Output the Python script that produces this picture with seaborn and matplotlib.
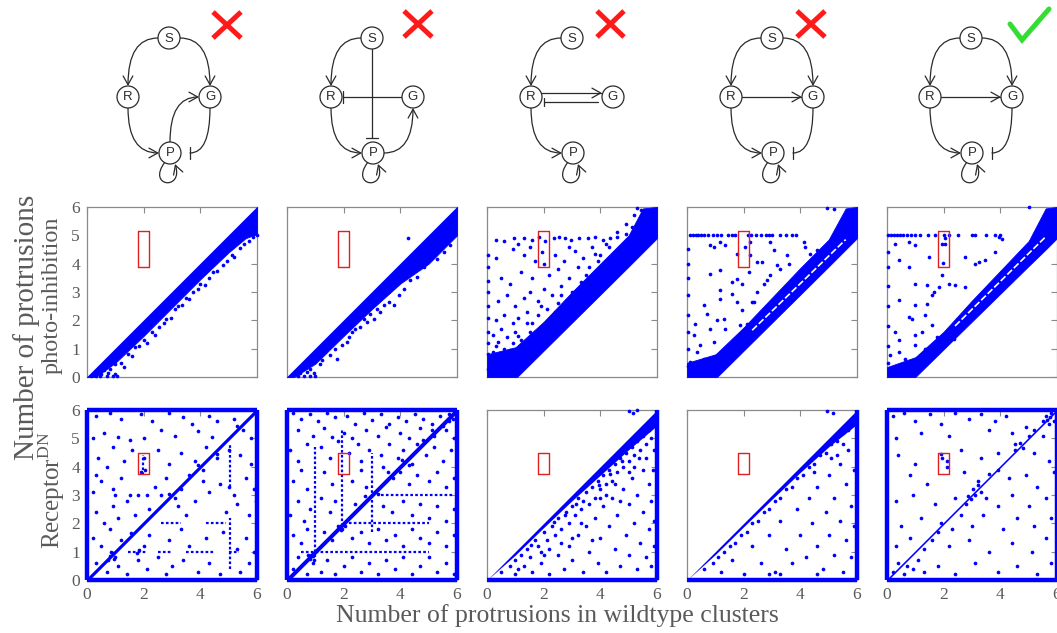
import numpy as np
import pandas as pd
import seaborn as sns
import matplotlib.pyplot as plt
from matplotlib.path import Path
from matplotlib.patches import Circle, FancyArrowPatch
from matplotlib.lines import Line2D

sns.set_theme(style="white")
plt.rcParams['font.family'] = ['Liberation Serif', 'DejaVu Serif']
plt.rcParams['mathtext.fontset'] = 'custom'
plt.rcParams['mathtext.rm'] = 'Liberation Serif'

BLUE = '#0000ff'
TXT = '#5a5a5a'
FRAME = '#8a8a8a'

# ---------------- data ----------------
xticks = [0, 2, 4, 6]
yticks = [0, 1, 2, 3, 4, 5, 6]

# photo-inhibition row: dense band (knots of its lower / upper edge) + sparse points
a1_band_x = [0.0, 0.3, 1.0, 2.0, 3.0, 4.0, 5.0, 5.6, 6.0]
a1_band_lo = [0.0, 0.0, 0.5, 1.45, 2.45, 3.45, 4.4, 4.9, 5.05]
a1_band_hi = [0.0, 0.3, 1.0, 2.0, 3.0, 4.0, 5.0, 5.6, 6.0]
a1_pts = [(0.3, 0.05), (0.5, 0.1), (0.7, 0.05), (0.9, 0.02), (1.0, 0.1), (0.6, 0.25), (0.8, 0.3),
          (1.0, 0.45), (1.2, 0.5), (1.3, 0.35), (1.45, 0.8), (1.6, 0.75), (1.7, 1.05), (1.85, 1.1),
          (2.0, 1.3), (2.1, 1.2), (2.3, 1.6), (2.4, 1.5), (2.55, 1.75), (2.7, 1.9), (2.8, 2.05),
          (2.95, 2.1), (3.1, 2.4), (3.2, 2.5), (3.35, 2.55), (3.5, 2.8), (3.6, 2.75), (3.75, 3.0),
          (3.9, 3.1), (4.0, 3.3), (4.15, 3.25), (4.3, 3.5), (4.45, 3.7), (4.6, 3.75), (4.8, 3.95),
          (4.95, 4.1), (5.1, 4.3), (5.2, 4.25), (5.4, 4.55), (5.55, 4.7), (5.7, 4.8), (5.85, 4.95),
          (6.0, 5.0), (0.15, 0.02), (0.45, 0.02), (1.05, 0.02), (0.75, 0.15)]

a2_band_x = [0.0, 0.25, 1.0, 2.0, 3.0, 4.0, 5.0, 6.0]
a2_band_lo = [0.0, 0.0, 0.47, 1.45, 2.4, 3.3, 4.0, 5.0]
a2_band_hi = [0.0, 0.25, 1.0, 2.0, 3.0, 4.0, 5.0, 6.0]
a2_pts = [(0.82, 0.29), (1.18, 0.47), (1.35, 0.88), (1.53, 0.76), (1.7, 1.0), (1.76, 0.65),
          (1.94, 1.12), (2.12, 1.24), (2.18, 1.41), (2.29, 1.59), (2.59, 1.76), (2.82, 1.94),
          (3.06, 2.06), (3.29, 2.29), (3.41, 2.53), (3.59, 2.65), (3.76, 2.53), (3.94, 2.88),
          (4.12, 3.12), (4.35, 3.41), (4.59, 3.53), (4.82, 3.88), (5.29, 4.18), (5.53, 4.41),
          (5.76, 4.65), (2.94, 2.24), (2.71, 2.06), (2.41, 1.71), (1.47, 1.12), (1.24, 0.59),
          (2.47, 2.18), (3.18, 2.41), (4.26, 4.92), (0.4, 0.02), (0.6, 0.02), (0.8, 0.02),
          (1.0, 0.05), (0.45, 0.15), (0.7, 0.17), (0.95, 0.15)]

a3_band_x = [0.0, 1.0, 1.06, 2.0, 3.0, 4.0, 5.0, 5.5, 6.0]
a3_band_lo = [0.0, 0.0, 0.0, 0.93, 1.92, 2.91, 3.9, 4.4, 4.9]
a3_band_hi = [0.8, 1.05, 1.1, 1.95, 3.0, 4.0, 5.0, 5.95, 6.0]
a3_pts = [(0.02, 0.3), (0.02, 0.8), (0.03, 1.2), (0.02, 1.6), (0.04, 2.1), (0.02, 2.5), (0.05, 3.0),
          (0.03, 3.4), (0.02, 3.9), (0.04, 4.3),
          (0.3, 4.85), (0.6, 4.8), (0.95, 4.9), (1.3, 4.92), (1.6, 4.85), (1.85, 4.95), (2.05, 4.8),
          (2.35, 4.9), (2.55, 4.95), (2.75, 4.9), (2.95, 4.85), (3.25, 4.92), (3.55, 4.9),
          (3.8, 4.95), (4.1, 4.85), (4.35, 4.9), (4.6, 4.95), (1.1, 4.7), (1.5, 4.6), (2.9, 4.6),
          (0.3, 4.2), (0.9, 4.5), (1.3, 4.3), (1.7, 4.1), (1.95, 4.4), (2.0, 4.0), (2.4, 4.3),
          (2.7, 4.1), (3.1, 4.45), (3.4, 4.2), (3.7, 4.6), (4.0, 4.3), (0.5, 3.5), (0.8, 3.3),
          (1.2, 3.7), (1.6, 3.5), (2.2, 3.6), (2.5, 3.8), (2.9, 3.5), (3.2, 3.9), (3.5, 3.6),
          (0.4, 2.7), (0.7, 2.9), (1.0, 2.5), (1.3, 2.8), (1.5, 3.0), (1.8, 2.7), (2.0, 3.1),
          (2.3, 2.9), (2.6, 3.2), (2.8, 2.7), (3.0, 3.0), (0.3, 2.0), (0.6, 2.2), (0.9, 1.9),
          (1.1, 2.1), (1.4, 2.3), (1.6, 1.9), (1.8, 2.2), (2.1, 2.4), (2.4, 2.3), (0.2, 1.5),
          (0.5, 1.7), (0.7, 1.4), (1.0, 1.6), (1.2, 1.3), (1.5, 1.6), (1.7, 1.5), (0.3, 1.1),
          (0.6, 1.0), (0.9, 1.2), (1.3, 1.1), (0.2, 0.9), (0.45, 0.85), (0.8, 0.95),
          (5.3, 5.95), (5.45, 5.9), (5.2, 5.7), (4.9, 5.4), (5.1, 5.3), (4.6, 5.1), (4.9, 5.05),
          (4.3, 4.6), (4.5, 4.4), (3.9, 4.1), (3.6, 3.9), (2.2, 2.0), (2.6, 2.9), (3.3, 3.35),
          (1.4, 1.9), (1.9, 2.5), (2.5, 2.6), (3.8, 4.35), (4.2, 4.7), (1.1, 1.45), (0.4, 1.25)]

a4_band_x = [0.0, 1.0, 1.06, 2.0, 3.0, 4.0, 5.0, 5.6, 6.0]
a4_band_lo = [0.0, 0.0, 0.0, 0.93, 1.92, 2.91, 3.9, 4.5, 4.9]
a4_band_hi = [0.5, 0.8, 0.85, 1.75, 2.8, 3.85, 4.85, 5.95, 6.0]
a4_gap_x = [2.3, 5.6]
a4_gap_y = [1.65, 4.85]
a4_row5_x = [0.1, 0.2, 0.3, 0.4, 0.5, 0.6, 0.75, 0.9, 1.05, 1.2, 1.45, 1.6, 1.7, 2.15, 2.25, 2.45,
             2.6, 2.8, 2.9, 3.0, 3.3, 3.5, 3.7, 3.85]
a4_pts = [(0.82, 4.65), (0.94, 4.59), (1.18, 4.76), (1.35, 4.65), (1.76, 4.35), (2.06, 4.59),
          (2.24, 4.76), (2.24, 4.29), (2.18, 3.71), (2.47, 4.06), (2.65, 4.06), (2.94, 4.76),
          (3.06, 4.47), (3.18, 3.94), (3.29, 3.82), (3.53, 4.29), (3.59, 4.0), (4.12, 4.76),
          (4.18, 4.59), (4.35, 4.35), (4.59, 4.47), (0.82, 3.65), (1.18, 3.76), (1.59, 3.35),
          (1.76, 3.47), (1.94, 3.29), (1.18, 3.06), (1.18, 2.76), (1.59, 2.94), (1.76, 2.65),
          (2.29, 2.65), (2.47, 3.0), (0.59, 2.53), (0.71, 2.24), (1.06, 2.0), (1.29, 2.06),
          (0.29, 1.88), (0.24, 1.47), (0.82, 1.71), (1.35, 1.71), (1.88, 1.82), (2.12, 1.88),
          (1.94, 2.35), (0.47, 1.12), (0.94, 1.24), (0.35, 0.88), (0.12, 0.53), (0.59, 0.65),
          (2.35, 2.65), (2.71, 3.29), (2.82, 3.41), (2.94, 3.59), (4.94, 5.96), (5.18, 5.94),
          (0.02, 0.4), (0.02, 1.0), (0.03, 1.6), (0.02, 2.2), (0.02, 2.9), (0.03, 3.5),
          (0.02, 4.0), (0.02, 4.5)]

a5_band_x = [0.0, 1.0, 2.0, 3.0, 4.0, 5.0, 5.6, 6.0]
a5_band_lo = [0.0, 0.0, 0.98, 1.96, 2.94, 3.92, 4.5, 4.9]
a5_band_hi = [0.35, 0.7, 1.6, 2.7, 3.75, 4.8, 5.95, 6.0]
a5_gap_x = [2.4, 5.6]
a5_gap_y = [1.8, 4.95]
a5_row5_x = [0.05, 0.15, 0.25, 0.35, 0.45, 0.55, 0.7, 0.85, 1.0, 1.15, 1.45, 1.7, 2.0, 2.2,
             2.5, 3.0, 3.1, 3.5, 3.8, 4.0]
a5_pts = [(0.29, 4.71), (0.76, 4.76), (1.0, 4.65), (1.94, 4.71), (2.06, 4.9), (2.04, 4.7),
          (1.96, 4.02), (2.76, 4.24), (3.12, 4.0), (3.25, 4.05), (3.47, 4.12), (3.82, 4.41),
          (3.95, 4.95), (4.06, 4.88), (0.41, 4.12), (0.76, 3.88), (1.47, 4.24), (1.94, 3.59),
          (1.0, 3.29), (1.41, 3.24), (1.65, 3.0), (1.82, 3.18), (2.18, 3.29), (2.41, 3.24),
          (2.76, 3.18), (0.41, 2.71), (1.0, 2.53), (1.41, 2.59), (1.59, 2.88), (0.76, 2.12),
          (0.88, 2.06), (1.35, 2.18), (0.29, 1.59), (0.41, 1.29), (1.0, 1.47), (1.24, 1.59),
          (1.59, 1.82), (1.76, 1.41), (2.06, 1.47), (2.35, 1.35), (0.12, 0.76), (0.41, 0.88),
          (0.65, 0.65), (1.0, 1.12), (1.35, 1.0), (1.6, 0.82), (1.94, 1.24), (5.0, 6.0),
          (0.02, 0.5), (0.02, 1.1), (0.02, 1.8), (0.03, 2.5), (0.02, 3.2), (0.02, 3.9),
          (0.02, 4.4)]

# receptor-DN row
b1_diag_x = [0.0, 6.0]
b1_diag_w = 0.08
b1_lines = [((1.45, 2.1), (1.0, 1.0)), ((2.5, 3.0), (1.0, 1.0)), ((3.5, 4.5), (1.0, 1.0)),
            ((5.0, 5.35), (1.0, 1.0)), ((2.6, 3.3), (2.0, 2.0)), ((4.2, 4.9), (2.0, 2.0)),
            ((5.04, 5.04), (0.4, 2.2)), ((5.04, 5.04), (3.3, 4.8)), ((1.98, 1.98), (3.7, 4.4))]
b1_pts = [(0.3, 5.8), (0.8, 5.9), (1.2, 5.7), (1.9, 5.85), (2.3, 5.6), (2.9, 5.9), (3.4, 5.75),
          (3.7, 5.5), (4.3, 5.8), (4.6, 5.6), (5.2, 5.7), (0.6, 5.2), (1.1, 5.05), (1.5, 4.95),
          (2.0, 5.0), (2.6, 5.3), (3.1, 5.1), (3.9, 5.25), (4.4, 5.05), (5.5, 5.3), (5.8, 5.0),
          (0.2, 5.0), (0.4, 4.3), (0.9, 4.7), (1.3, 4.2), (2.0, 4.3), (2.05, 3.9), (1.9, 3.8),
          (2.5, 4.6), (2.9, 4.1), (3.3, 4.5), (3.8, 4.2), (4.2, 4.7), (4.6, 4.3), (5.0, 4.6),
          (5.4, 4.4), (5.8, 4.1), (0.7, 4.0), (1.6, 4.6), (0.2, 3.1), (0.5, 3.5), (0.9, 3.2),
          (1.2, 3.6), (1.5, 3.0), (1.8, 3.0), (2.1, 3.0), (2.4, 3.3), (2.6, 3.0), (2.8, 3.6),
          (3.3, 3.2), (3.6, 3.7), (4.1, 3.5), (4.3, 3.1), (4.7, 3.4), (5.0, 3.3), (5.2, 3.0),
          (5.6, 3.6), (5.9, 3.2), (1.0, 3.0), (0.3, 3.7), (0.3, 2.4), (0.6, 2.0), (0.9, 2.6),
          (1.1, 2.2), (1.4, 2.8), (1.7, 2.3), (2.2, 2.5), (3.2, 2.6), (3.5, 2.3), (3.8, 2.8),
          (4.9, 2.4), (5.3, 2.7), (5.7, 2.3), (5.95, 2.8), (0.2, 1.5), (0.5, 1.2), (0.8, 1.8),
          (1.2, 1.4), (2.0, 1.2), (2.2, 1.6), (2.9, 1.4), (3.3, 1.8), (3.6, 1.2), (4.2, 1.5),
          (4.8, 1.7), (5.3, 1.1), (5.6, 1.5), (5.9, 1.0), (0.3, 0.6), (0.7, 0.3), (1.1, 0.5),
          (1.4, 0.2), (1.8, 0.7), (2.1, 0.4), (2.5, 0.8), (2.8, 0.2), (3.0, 0.5), (3.4, 0.7),
          (3.9, 0.3), (4.3, 0.6), (4.7, 0.2), (5.4, 0.3), (5.7, 0.6), (0.8, 0.85), (0.9, 0.95),
          (1.0, 0.8), (0.85, 1.0), (0.95, 0.75), (0.75, 0.7), (1.75, 0.95), (1.85, 1.05),
          (2.9, 3.05), (3.1, 2.9), (3.9, 4.05), (4.1, 3.9), (1.55, 1.65), (4.6, 4.45), (5.3, 5.45)]

b2_diag_x = [0.0, 6.0]
b2_diag_w = 0.1
b2_lines = [((1.0, 1.0), (0.8, 4.7)), ((1.95, 1.95), (1.9, 5.3)), ((3.0, 3.0), (1.7, 4.5)),
            ((0.5, 5.0), (1.0, 1.0)), ((2.0, 5.0), (2.0, 2.0)), ((3.3, 5.9), (3.0, 3.0))]
b2_pts = [(0.2, 5.9), (0.5, 5.7), (0.8, 5.85), (1.1, 5.6), (1.4, 5.9), (1.7, 5.75), (2.1, 5.8),
          (2.4, 5.5), (2.7, 5.9), (3.0, 5.65), (3.3, 5.85), (3.6, 5.5), (3.9, 5.75), (4.2, 5.6),
          (4.5, 5.85), (4.8, 5.7), (5.1, 5.5), (5.4, 5.8), (5.7, 5.6), (0.4, 5.3), (0.9, 5.1),
          (1.3, 5.35), (1.6, 5.05), (2.0, 5.2), (2.3, 5.0), (2.8, 5.3), (3.2, 5.1), (3.5, 5.4),
          (4.0, 5.2), (4.3, 5.0), (4.7, 5.35), (5.2, 5.1), (5.6, 5.3), (5.9, 5.0),
          (0.1, 4.6), (0.4, 4.2), (0.7, 4.8), (1.2, 4.7), (1.5, 4.3), (1.8, 4.9), (2.2, 4.5),
          (2.5, 4.8), (2.6, 4.2), (2.9, 4.6), (3.3, 4.4), (3.6, 4.8), (3.9, 4.3), (4.1, 4.6),
          (4.4, 4.1), (4.6, 4.8), (4.9, 4.4), (5.2, 4.7), (5.5, 4.2), (5.8, 4.6), (3.4, 4.0),
          (0.2, 3.5), (0.5, 3.9), (0.7, 3.2), (1.3, 3.8), (1.6, 3.4), (2.3, 3.5), (2.6, 3.9),
          (2.8, 3.3), (3.5, 3.5), (4.0, 3.8), (4.3, 3.4), (4.6, 3.7), (5.0, 3.5), (5.3, 3.8),
          (5.6, 3.3), (5.9, 3.6), (0.1, 2.3), (0.4, 2.8), (0.6, 2.1), (0.8, 2.5), (1.2, 2.9),
          (1.5, 2.4), (1.7, 2.8), (2.4, 2.7), (3.4, 2.6), (3.7, 2.4), (4.1, 2.8), (4.4, 2.3),
          (4.7, 2.7), (5.0, 2.2), (5.3, 2.6), (5.6, 2.1), (5.9, 2.5), (0.2, 1.6), (0.5, 1.3),
          (0.7, 1.8), (1.3, 1.7), (1.6, 1.4), (1.8, 1.9), (1.9, 1.75), (2.0, 1.95), (2.3, 1.5),
          (2.6, 1.7), (2.9, 1.3), (3.2, 1.8), (3.5, 1.4), (3.8, 1.6), (4.1, 1.2), (4.4, 1.8),
          (4.7, 1.5), (5.0, 1.3), (5.3, 1.7), (5.6, 1.2), (5.9, 1.6), (0.2, 0.4), (0.4, 0.8),
          (0.7, 0.2), (0.9, 0.6), (1.2, 0.3), (1.4, 0.7), (1.7, 0.2), (2.0, 0.5), (2.3, 0.8),
          (2.6, 0.3), (2.9, 0.6), (3.2, 0.2), (3.5, 0.7), (3.8, 0.4), (4.1, 0.8), (4.4, 0.2),
          (4.7, 0.5), (5.0, 0.8), (5.3, 0.3), (5.6, 0.6), (5.9, 0.2), (0.8, 0.75), (0.9, 0.85),
          (0.85, 0.9), (0.95, 0.7), (0.75, 0.9), (1.85, 1.85), (1.95, 1.8), (2.05, 1.9),
          (3.55, 3.8), (3.75, 3.6), (4.05, 4.25), (4.3, 4.05), (2.75, 2.95), (3.2, 3.05),
          (4.8, 4.95), (5.1, 5.3), (5.5, 5.45), (5.7, 5.85), (5.85, 5.7)]

b3_edge_x = [0.0, 1.0, 2.0, 3.0, 4.0, 5.0, 6.0]
b3_edge_lo = [0.0, 0.88, 1.85, 2.8, 3.7, 4.6, 5.45]
b3_pts = [(0.5, 0.3), (0.8, 0.5), (1.0, 0.7), (1.2, 0.9), (1.4, 1.1), (1.5, 0.8), (1.7, 1.4),
          (1.8, 1.2), (1.9, 1.0), (2.0, 1.7), (2.1, 1.4), (2.2, 1.1), (2.3, 1.9), (2.4, 1.6),
          (2.5, 2.2), (2.6, 1.8), (2.8, 2.4), (2.9, 2.0), (3.0, 2.6), (3.1, 2.3), (3.2, 2.9),
          (3.3, 2.5), (3.4, 2.8), (3.5, 3.1), (3.6, 2.7), (3.7, 3.3), (3.8, 2.9), (3.9, 3.5),
          (4.0, 3.2), (4.1, 3.7), (4.2, 3.4), (4.3, 3.9), (4.4, 3.5), (4.5, 4.1), (4.6, 3.8),
          (4.7, 4.3), (4.8, 4.0), (4.9, 4.5), (5.0, 4.2), (5.1, 4.7), (5.2, 4.4), (5.3, 4.9),
          (5.4, 4.6), (5.5, 5.1), (5.6, 4.8), (5.7, 5.3), (5.8, 5.0), (5.9, 5.5), (5.75, 5.5),
          (5.5, 5.3), (1.0, 0.2), (1.3, 0.5), (1.6, 0.3), (1.9, 0.6), (2.2, 0.2), (2.5, 0.9),
          (2.7, 0.4), (2.9, 1.2), (3.0, 0.7), (3.2, 1.6), (3.4, 0.3), (3.5, 1.9), (3.6, 1.0),
          (3.8, 2.2), (3.9, 0.6), (4.0, 1.5), (4.1, 2.6), (4.2, 0.3), (4.3, 1.9), (4.4, 2.9),
          (4.5, 1.1), (4.6, 2.3), (4.7, 0.5), (4.8, 3.2), (4.9, 1.6), (5.0, 2.7), (5.0, 0.9),
          (5.1, 3.6), (5.2, 2.0), (5.3, 0.4), (5.3, 3.0), (5.4, 1.3), (5.5, 3.9), (5.5, 2.4),
          (5.6, 0.8), (5.6, 4.3), (5.7, 1.8), (5.7, 3.4), (5.8, 2.8), (5.8, 0.5), (5.9, 4.6),
          (5.9, 1.2), (5.85, 3.9), (5.9, 2.1), (3.3, 2.0), (3.7, 1.4), (4.0, 2.9), (4.5, 3.4),
          (4.7, 2.8), (5.0, 3.8), (5.2, 4.0), (4.2, 3.0), (3.0, 1.5), (2.6, 1.3), (2.0, 0.9),
          (1.1, 0.4), (5.0, 5.95), (5.15, 5.9), (5.3, 6.0), (1.55, 1.25), (2.35, 2.05),
          (3.15, 2.7), (3.95, 3.35), (4.75, 4.2), (5.35, 4.3), (4.35, 3.75), (2.75, 2.3)]

b4_edge_x = [0.0, 1.0, 2.0, 3.0, 4.0, 5.0, 6.0]
b4_edge_lo = [0.0, 0.9, 1.88, 2.85, 3.8, 4.7, 5.5]
b4_pts = [(0.6, 0.4), (0.9, 0.6), (1.1, 0.8), (1.3, 1.0), (1.5, 1.2), (1.7, 1.3), (1.9, 1.6),
          (2.1, 1.7), (2.3, 2.0), (2.5, 2.1), (2.7, 2.4), (2.9, 2.5), (3.1, 2.8), (3.3, 2.9),
          (3.5, 3.2), (3.7, 3.3), (3.9, 3.6), (4.1, 3.7), (4.3, 4.0), (4.5, 4.1), (4.7, 4.4),
          (4.9, 4.5), (5.1, 4.8), (5.3, 4.9), (5.5, 5.2), (5.7, 5.3), (5.85, 5.6),
          (1.2, 0.3), (1.6, 0.7), (2.0, 0.2), (2.3, 1.2), (2.6, 0.6), (2.9, 1.6), (3.1, 0.3),
          (3.3, 2.1), (3.5, 1.1), (3.7, 0.6), (3.9, 2.5), (4.0, 1.6), (4.2, 0.8), (4.3, 2.9),
          (4.4, 2.0), (4.6, 1.2), (4.6, 3.3), (4.8, 0.4), (4.9, 2.4), (5.0, 3.7), (5.0, 1.6),
          (5.2, 2.9), (5.2, 0.9), (5.4, 4.1), (5.4, 2.1), (5.5, 0.3), (5.6, 3.4), (5.6, 1.4),
          (5.7, 4.6), (5.8, 2.6), (5.8, 0.8), (5.9, 3.9), (5.9, 1.9), (3.3, 0.2), (4.6, 0.2),
          (5.3, 4.4), (5.5, 4.8), (5.1, 4.3), (4.5, 3.8), (2.9, 0.2), (4.95, 5.95), (5.15, 5.9)]

b5_diag_x = [0.0, 6.0]
b5_diag_w = 0.04
b5_pts = [(0.2, 5.8), (0.6, 5.9), (1.0, 5.6), (1.5, 5.85), (1.9, 5.5), (2.4, 5.9), (2.9, 5.7),
          (3.3, 5.85), (3.8, 5.6), (4.2, 5.8), (0.3, 5.0), (1.2, 5.2), (2.2, 5.1), (3.6, 5.3),
          (4.4, 5.2), (4.9, 5.4), (5.5, 5.1), (0.4, 4.4), (1.0, 4.1), (1.9, 4.45), (2.1, 4.0),
          (2.6, 4.6), (3.3, 4.3), (3.9, 4.5), (4.5, 4.8), (4.8, 4.65), (5.2, 4.5), (5.7, 4.2),
          (0.8, 3.7), (1.4, 3.4), (2.7, 3.8), (3.2, 3.5), (3.6, 3.75), (3.9, 3.9), (4.3, 3.6),
          (4.9, 3.7), (5.3, 3.3), (5.9, 3.8), (0.3, 2.8), (0.9, 3.0), (1.7, 2.7), (2.4, 2.9),
          (2.8, 2.7), (3.1, 3.0), (3.3, 3.1), (3.5, 2.9), (3.9, 2.6), (4.4, 3.0), (5.0, 2.6),
          (5.6, 2.9), (0.5, 1.9), (1.2, 2.2), (1.9, 2.0), (2.3, 1.8), (2.6, 2.3), (3.0, 1.9),
          (3.4, 2.3), (4.1, 1.8), (4.6, 2.2), (5.2, 1.9), (5.8, 2.2), (0.3, 1.2), (0.8, 1.5),
          (1.3, 1.1), (1.6, 1.4), (1.8, 1.7), (2.2, 1.2), (2.9, 1.4), (3.6, 1.0), (4.4, 1.3),
          (5.1, 1.0), (5.6, 1.5), (0.2, 0.3), (0.4, 0.6), (0.6, 0.2), (0.7, 0.5), (0.9, 0.4),
          (1.1, 0.7), (1.3, 0.3), (1.8, 0.5), (2.4, 0.2), (3.1, 0.6), (3.9, 0.3), (4.6, 0.5),
          (5.3, 0.2), (5.8, 0.6), (5.5, 5.6), (5.6, 5.8), (5.7, 5.5), (5.8, 5.9), (5.9, 5.6),
          (5.75, 5.75), (5.65, 5.65), (1.95, 4.3), (2.1, 4.2), (2.95, 2.85), (3.05, 3.2),
          (3.2, 3.35), (2.85, 2.95), (4.5, 4.6), (4.7, 4.85), (5.0, 5.1), (5.2, 5.3)]

# highlight boxes (x0, x1, y0, y1) for each row
row_box = [(1.8, 2.2, 3.9, 5.15), (1.8, 2.2, 3.75, 4.5)]

# ---------------- figure ----------------
W, H = 1057, 633
fig = plt.figure(figsize=(W / 100, H / 100), dpi=100)
col_left = [87, 287, 487, 687, 887]
row_top = [207, 410]
SIZE = 170


def panel(r, c):
    x0, y0 = col_left[c], row_top[r]
    ax = fig.add_axes([x0 / W, 1 - (y0 + SIZE) / H, SIZE / W, SIZE / H])
    ax.set_xlim(0, 6)
    ax.set_ylim(0, 6)
    ax.set_xticks(xticks)
    ax.set_yticks(yticks)
    ax.tick_params(direction='in', length=4, width=0.8, color=FRAME, top=True, right=True,
                   labelcolor=TXT, labelsize=12.5, pad=5,
                   labelleft=(c == 0), labelbottom=(r == 1))
    for s in ax.spines.values():
        s.set_color(FRAME)
        s.set_linewidth(0.9)
    ax.set_facecolor('white')
    bx = row_box[r]
    ax.plot([bx[0], bx[1], bx[1], bx[0], bx[0]], [bx[2], bx[2], bx[3], bx[3], bx[2]],
            color='#e02020', lw=1.0, zorder=6)
    return ax


def dots(ax, pts):
    df = pd.DataFrame(pts, columns=['x', 'y'])
    sns.scatterplot(data=df, x='x', y='y', ax=ax, color=BLUE, s=7, linewidth=0,
                    legend=False, zorder=4, clip_on=False)
    ax.set_xlabel('')
    ax.set_ylabel('')


def band(ax, bx, lo, hi):
    ax.fill_between(bx, lo, hi, color=BLUE, lw=0.6, edgecolor=BLUE, zorder=3)


def gap(ax, gx, gy):
    ax.plot(gx, gy, color='white', lw=1.2, ls=(0, (4, 1.5)), zorder=3.5)


def dotted(ax, segs):
    for (xs, ys) in segs:
        ax.plot(xs, ys, color=BLUE, lw=1.6, ls=(0, (1.2, 1.0)), zorder=4)


# row 1
ax = panel(0, 0)
band(ax, a1_band_x, a1_band_lo, a1_band_hi)
dots(ax, a1_pts)

ax = panel(0, 1)
band(ax, a2_band_x, a2_band_lo, a2_band_hi)
dots(ax, a2_pts)

ax = panel(0, 2)
band(ax, a3_band_x, a3_band_lo, a3_band_hi)
dots(ax, a3_pts)

ax = panel(0, 3)
band(ax, a4_band_x, a4_band_lo, a4_band_hi)
gap(ax, a4_gap_x, a4_gap_y)
dots(ax, a4_pts + [(v, 5.0) for v in a4_row5_x])

ax = panel(0, 4)
band(ax, a5_band_x, a5_band_lo, a5_band_hi)
gap(ax, a5_gap_x, a5_gap_y)
dots(ax, a5_pts + [(v, 5.0) for v in a5_row5_x])


# row 2
def frame_edges(ax, sides):
    for xs, ys in sides:
        ax.plot(xs, ys, color=BLUE, lw=3.2, clip_on=False, zorder=5, solid_capstyle='butt')


FULL = [([0, 6], [0, 0]), ([6, 6], [0, 6]), ([6, 0], [6, 6]), ([0, 0], [6, 0])]
HALF = [([0, 6], [0, 0]), ([6, 6], [0, 6])]

ax = panel(1, 0)
ax.fill_between(b1_diag_x, [v - b1_diag_w for v in b1_diag_x], [v + b1_diag_w for v in b1_diag_x],
                color=BLUE, lw=0, zorder=3)
dotted(ax, b1_lines)
dots(ax, b1_pts)
frame_edges(ax, FULL)

ax = panel(1, 1)
ax.fill_between(b2_diag_x, [v - b2_diag_w for v in b2_diag_x], [v + b2_diag_w for v in b2_diag_x],
                color=BLUE, lw=0, zorder=3)
dotted(ax, b2_lines)
dots(ax, b2_pts)
frame_edges(ax, FULL)

ax = panel(1, 2)
ax.fill_between(b3_edge_x, b3_edge_lo, b3_edge_x, color=BLUE, lw=0, zorder=3)
dots(ax, b3_pts)
frame_edges(ax, HALF)

ax = panel(1, 3)
ax.fill_between(b4_edge_x, b4_edge_lo, b4_edge_x, color=BLUE, lw=0, zorder=3)
dots(ax, b4_pts)
frame_edges(ax, HALF)

ax = panel(1, 4)
ax.fill_between(b5_diag_x, [v - b5_diag_w for v in b5_diag_x], [v + b5_diag_w for v in b5_diag_x],
                color=BLUE, lw=0, zorder=3)
dots(ax, b5_pts)
frame_edges(ax, FULL)

# axis titles
fig.text(27 / W, 1 - 327 / H, 'Number of protrusions', rotation=90, ha='center', va='center',
         fontsize=21, color=TXT)
fig.text(52 / W, 1 - 295 / H, 'photo-inhibition', rotation=90, ha='center', va='center',
         fontsize=17.5, color=TXT)
fig.text(52 / W, 1 - 490 / H, r'Receptor$^{\mathrm{DN}}$', rotation=90, ha='center', va='center',
         fontsize=18, color=TXT)
fig.text(557 / W, 1 - 616 / H, 'Number of protrusions in wildtype clusters', ha='center',
         va='center', fontsize=18.5, color=TXT)

# ---------------- network motifs ----------------
net = fig.add_axes([0, 0, 1, 1], zorder=10)
net.set_xlim(0, W)
net.set_ylim(H, 0)
net.axis('off')
net.patch.set_alpha(0)
INK = '#2a2a2a'
RAD = 11


def link(pts, head=True):
    codes = {2: [Path.MOVETO, Path.LINETO],
             3: [Path.MOVETO, Path.CURVE3, Path.CURVE3],
             4: [Path.MOVETO, Path.CURVE4, Path.CURVE4, Path.CURVE4]}[len(pts)]
    style = '->,head_length=0.45,head_width=0.25' if head else '-'
    net.add_patch(FancyArrowPatch(path=Path(pts, codes), arrowstyle=style, mutation_scale=14,
                                  lw=0.9, color=INK))


def bar(p, q):
    net.add_line(Line2D([p[0], q[0]], [p[1], q[1]], color=INK, lw=0.9))


def node(x, y, label):
    net.add_patch(Circle((x, y), RAD, facecolor='white', edgecolor=INK, lw=0.9, zorder=5))
    net.text(x, y + 0.5, label, ha='center', va='center', fontsize=9.5, color=INK, zorder=6,
             family=['Liberation Sans', 'DejaVu Sans'])


def motif(cx, edges):
    S, R, G, P = (cx, 38), (cx - 41, 97), (cx + 41, 97), (cx + 1, 153)
    if 'SR' in edges:
        link([(S[0] - RAD, S[1]), (R[0], S[1]), (R[0], R[1] - RAD)])
    if 'SG' in edges:
        link([(S[0] + RAD, S[1]), (G[0], S[1]), (G[0], G[1] - RAD)])
    if 'RP' in edges:
        link([(R[0], R[1] + RAD), (R[0], P[1]), (P[0] - RAD, P[1])])
    if 'PG_up' in edges:
        link([(P[0], P[1] - RAD), (P[0], G[1]), (G[0] - RAD, G[1])])
    if 'PG_side' in edges:
        link([(P[0] + RAD, P[1]), (G[0], P[1]), (G[0], G[1] + RAD)])
    if 'G-|P' in edges:
        link([(G[0], G[1] + RAD), (G[0], P[1]), (P[0] + 20, P[1])], head=False)
        bar((P[0] + 20, P[1] - 6), (P[0] + 20, P[1] + 6))
    if 'S-|P' in edges:
        link([(S[0], S[1] + RAD), (S[0], P[1] - RAD - 4)], head=False)
        bar((S[0] - 6, P[1] - RAD - 4), (S[0] + 6, P[1] - RAD - 4))
    if 'G-|R' in edges:
        link([(G[0] - RAD, G[1]), (R[0] + RAD + 1, R[1])], head=False)
        bar((R[0] + RAD + 1, R[1] - 6), (R[0] + RAD + 1, R[1] + 6))
    if 'RG' in edges:
        link([(R[0] + RAD, R[1]), (G[0] - RAD, G[1])])
    if 'RG_pair' in edges:
        link([(R[0] + RAD - 1, R[1] - 4), (G[0] - RAD, G[1] - 4)])
        link([(G[0] - RAD - 4, G[1] + 5), (R[0] + RAD + 2, R[1] + 5)], head=False)
        bar((R[0] + RAD + 2, R[1] + 1), (R[0] + RAD + 2, R[1] + 9))
    # self activation loop of P
    link([(P[0] - 5, P[1] + 9), (P[0] - 24, P[1] + 34), (P[0] + 14, P[1] + 38), (P[0] + 5, P[1] + 11)])
    for (x, y), lab in zip([S, R, G, P], 'SRGP'):
        node(x, y, lab)


motif(169, {'SR', 'SG', 'RP', 'PG_up', 'G-|P'})
motif(372, {'SR', 'S-|P', 'G-|R', 'RP', 'PG_side'})
motif(572, {'SR', 'RG_pair', 'RP'})
motif(772, {'SR', 'SG', 'RG', 'RP', 'G-|P'})
motif(971, {'SR', 'SG', 'RG', 'RP', 'G-|P'})


def cross(x0, y0, x1, y1):
    net.add_line(Line2D([x0, x1], [y0, y1], color='#ff1a1a', lw=3.6, solid_capstyle='butt'))
    net.add_line(Line2D([x0, x1], [y1, y0], color='#ff1a1a', lw=3.6, solid_capstyle='butt'))


cross(213, 12, 241, 38)
cross(404, 11, 432, 37)
cross(597, 11, 624, 37)
cross(797, 11, 825, 37)
net.add_line(Line2D([1010, 1022, 1049], [24, 40, 9], color='#33dd33', lw=3.6,
                    solid_joinstyle='miter'))

fig.savefig('out.png', dpi=100)
